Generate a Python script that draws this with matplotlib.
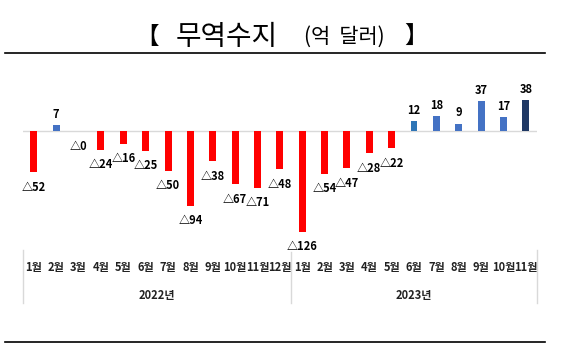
import matplotlib
matplotlib.use('Agg')
import matplotlib.pyplot as plt
from matplotlib.lines import Line2D
from matplotlib.transforms import blended_transform_factory

plt.rcParams['font.family'] = ['Noto Sans CJK KR', 'DejaVu Sans']

# 월별 무역수지 (억 달러)
months = ['1월', '2월', '3월', '4월', '5월', '6월', '7월', '8월', '9월', '10월', '11월', '12월',
          '1월', '2월', '3월', '4월', '5월', '6월', '7월', '8월', '9월', '10월', '11월']
values = [-52, 7, -0.4, -24, -16, -25, -50, -94, -38, -67, -71, -48,
          -126, -54, -47, -28, -22, 12, 18, 9, 37, 17, 38]
labels = ['△52', '7', '△0', '△24', '△16', '△25', '△50', '△94', '△38', '△67', '△71', '△48',
          '△126', '△54', '△47', '△28', '△22', '12', '18', '9', '37', '17', '38']
years = ['2022년', '2023년']
year_counts = [12, 11]

colors = []
for i, v in enumerate(values):
    if v < 0:
        colors.append('#FF0000')
    else:
        colors.append('#4472C4')
colors[17] = '#2E75B6'
colors[-1] = '#1F3864'

W, H = 561, 358
fig = plt.figure(figsize=(W / 100, H / 100), dpi=100)
ax = fig.add_axes([22.7 / W, 1 - 250 / H, (537 - 22.7) / W, 170 / H])

x = list(range(len(values)))
ax.bar(x, values, width=0.31, color=colors)
ax.set_xlim(-0.5, len(values) - 0.5)
ax.set_ylim(-149.1, 63.4)
ax.axhline(0, color='#D9D9D9', lw=1, zorder=0)
ax.axis('off')

for xi, v, lab in zip(x, values, labels):
    if v < 0:
        ax.annotate(lab, (xi, v), xytext=(0, -10.8), textcoords='offset points',
                    ha='center', va='center', fontsize=8, fontweight='bold')
    else:
        ax.annotate(lab, (xi, v), xytext=(0, 7.9), textcoords='offset points',
                    ha='center', va='center', fontsize=8, fontweight='bold')

# 카테고리 축 (월 / 연도)
tr = blended_transform_factory(ax.transData, fig.transFigure)
for xi, m in zip(x, months):
    ax.text(xi, 1 - 268 / H, m, transform=tr, ha='center', va='center',
            fontsize=8, fontweight='bold', color='#222222')

start = 0
seps = [-0.5]
for yr, n in zip(years, year_counts):
    ax.text(start + (n - 1) / 2, 1 - 296 / H, yr, transform=tr, ha='center', va='center',
            fontsize=8, fontweight='bold', color='#222222')
    start += n
    seps.append(start - 0.5)
for i, s in enumerate(seps):
    top = 250 if i != 1 else 252
    ax.add_line(Line2D([s, s], [1 - top / H, 1 - 303 / H], transform=tr,
                       color='#D9D9D9', lw=1, clip_on=False))

# 제목
ty = 1 - 37 / H
fig.text(135 / W, ty, '【', ha='left', va='center', fontsize=17)
fig.text(227 / W, ty, '무역수지', ha='center', va='center', fontsize=20)
fig.text(344 / W, ty, '(억  달러)', ha='center', va='center', fontsize=15)
fig.text(404 / W, ty, '】', ha='left', va='center', fontsize=17)

fig.add_artist(Line2D([5 / W, 545 / W], [1 - 53.3 / H, 1 - 53.3 / H], color='black', lw=1.2))
fig.add_artist(Line2D([5 / W, 545 / W], [1 - 342.3 / H, 1 - 342.3 / H], color='black', lw=1.2))

fig.savefig('out.png', dpi=100)
